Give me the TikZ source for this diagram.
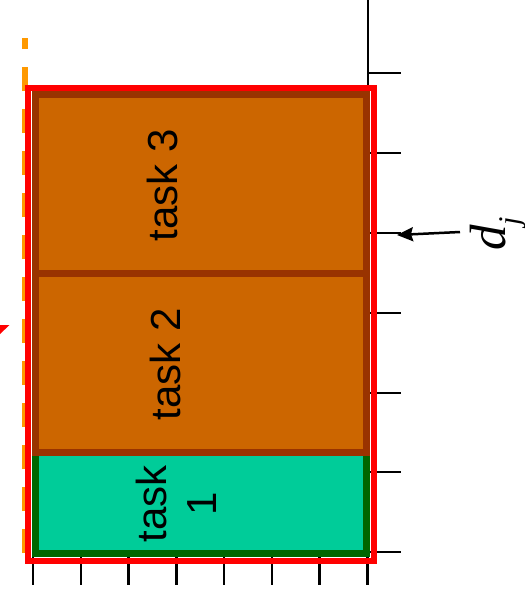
\documentclass[tikz,border=0pt]{standalone}
\usepackage{fontspec}
\setmainfont{Liberation Sans}
\newfontfamily\timesf{Liberation Serif}
\usetikzlibrary{arrows.meta}
\definecolor{taskbrown}{HTML}{CC6600}
\definecolor{taskbrowndark}{HTML}{993300}
\definecolor{taskgreen}{HTML}{00CC99}
\definecolor{taskgreendark}{HTML}{006600}
\definecolor{dlred}{HTML}{FF0000}
\definecolor{dlorange}{HTML}{FF9900}
\begin{document}
\begin{tikzpicture}[x=1pt,y=-1pt,
  axisline/.style={line width=2.5pt,black},
  taskbox/.style={rectangle,line width=7pt,inner sep=0pt,outer sep=0pt},
  brownbox/.style={taskbox,draw=taskbrowndark,fill=taskbrown},
  greenbox/.style={taskbox,draw=taskgreendark,fill=taskgreen},
  tasklabel/.style={rotate=90,font=\fontsize{42}{50}\selectfont,inner sep=0pt,align=center},
  ]
\useasboundingbox (0,0) rectangle (525,598);
% axes
\coordinate (ytop) at (368,0);
\coordinate (origin) at (368,553);
\coordinate (xleft) at (33,553);
\draw[axisline] (ytop) -- (origin) -- (xleft);
\foreach \y in {73,153,233,313,393,472,552} \draw[axisline] (368,\y) -- (401,\y);
\foreach \x in {33,80.8,128.5,176.3,224,271.8,319.5,367.3} \draw[axisline] (\x,553) -- (\x,585);
% release line
\coordinate (relbot) at (25,553);
\coordinate (reltop) at (25,38);
\draw[dlorange, line width=6pt, dash pattern=on 24pt off 18pt] (relbot) -- (reltop);
% tasks
\node[greenbox, minimum width=331.5pt, minimum height=101pt] (t1) at (200.75,502.5) {};
\node[brownbox, minimum width=331.5pt, minimum height=178.5pt] (t2) at (200.75,362.75) {};
\node[brownbox, minimum width=331.5pt, minimum height=179pt] (t3) at (200.75,184) {};
\node[tasklabel, anchor=base] (l3) at (177,185) {task 3};
\node[tasklabel, anchor=base] (l2) at (180,364) {task 2};
\node[tasklabel, anchor=center] (l1) at (176,504) {task\\1};
% deadline frame
\node[draw=dlred, line width=6pt, minimum width=346.5pt, minimum height=473pt, inner sep=0pt, outer sep=0pt] (frame) at (200.75,324) {};
% partial red arrowhead at left edge
\fill[dlred] (0,325) -- (9.5,325) -- (0,334) -- cycle;
% deadline label
\node[rotate=90, anchor=base west, inner sep=0pt, font=\fontsize{51}{60}\selectfont\timesf\itshape] (dj) at (505,251) {d\raisebox{-14pt}{\fontsize{30}{36}\selectfont j}};
\coordinate (arrS) at (460,232);
\coordinate (arrE) at (397,235);
\draw[line width=2.5pt, -{Stealth[length=16pt,width=14pt,inset=2pt]}] (arrS) -- (arrE);
\end{tikzpicture}
\end{document}
